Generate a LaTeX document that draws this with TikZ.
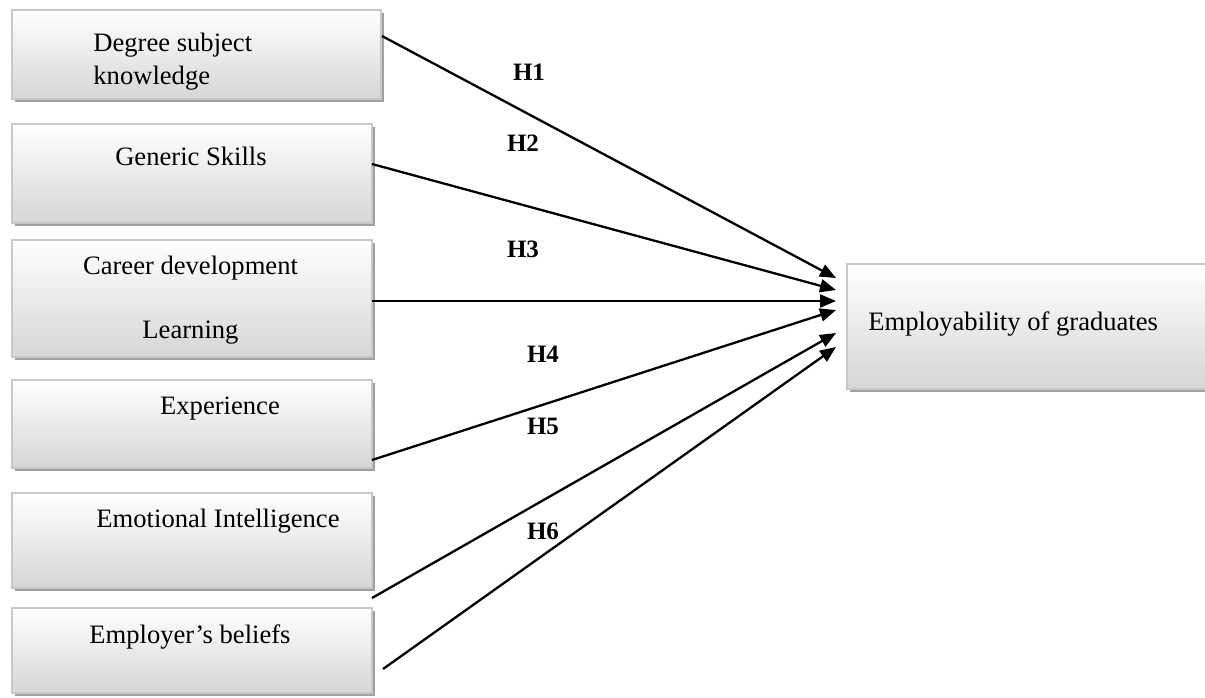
\documentclass[tikz,border=0pt]{standalone}
\usepackage{fontspec}
\setmainfont{Liberation Serif}
\usetikzlibrary{arrows.meta, calc, fit, shadows}
\definecolor{boxline}{HTML}{C8C8C8}
\definecolor{boxshade}{HTML}{A0A0A0}
\definecolor{boxlow}{HTML}{D6D6D6}

\begin{document}
\begin{tikzpicture}[x=0.5pt, y=-0.5pt, >={Triangle[length=8pt, width=6.5pt]},
    factor/.style={draw=boxline, line width=0.9pt, top color=white, bottom color=boxlow,
      inner sep=0pt, outer sep=0pt,
      drop shadow={shadow xshift=1.5pt, shadow yshift=-1.5pt, fill=boxshade, opacity=1}},
    lbl/.style={font=\fontsize{13.3}{16.5}\selectfont, inner sep=0pt},
    hyp/.style={font=\fontsize{12.5}{15}\selectfont\bfseries, inner sep=0pt},
    link/.style={->, line width=1.15pt}]
  \useasboundingbox (0,0) rectangle (1205,697);

  % factors
  \node[factor, fit={(12,10) (381,99)}] (degree) {};
  \node[factor, fit={(12,124) (372,223)}] (skills) {};
  \node[factor, fit={(12,240) (372,357)}] (career) {};
  \node[factor, fit={(12,380) (372,468)}] (exper) {};
  \node[factor, fit={(12,493) (372,588)}] (emotion) {};
  \node[factor, fit={(12,608) (372,693)}] (beliefs) {};
  \node[factor, fit={(847,264) (1215,389)}] (employ) {};

  \node[lbl, anchor=west, align=left] (degreetxt) at (93,62) {Degree subject\\knowledge};
  \node[lbl] (skillstxt) at (191,156) {Generic Skills};
  \node[lbl, align=center] (careertxt) at (190.5,300) {Career development\\[15.5pt]Learning};
  \node[lbl] (expertxt) at (220,409) {Experience};
  \node[lbl] (emotiontxt) at (218,521) {Emotional Intelligence};
  \node[lbl] (beliefstxt) at (190,637) {Employer’s beliefs};
  \node[lbl, anchor=west] (employtxt) at (868,324) {Employability of graduates};

  % hypotheses
  \foreach \src/\sx/\sy/\ey in {degree/1/26/14, skills/0/40/26, career/0/61/37,
      exper/0/80/46, emotion/0/105/69, beliefs/11/61/83}
    \draw[link] ($(\src.north east)+(\sx,\sy)$) -- ($(employ.north west)+(-11,\ey)$);

  \foreach \i/\lx/\ly in {1/529/72, 2/523/143, 3/523/249, 4/543/354, 5/543/426, 6/543/531}
    \node[hyp] (h\i) at (\lx,\ly) {H\i};
\end{tikzpicture}
\end{document}
